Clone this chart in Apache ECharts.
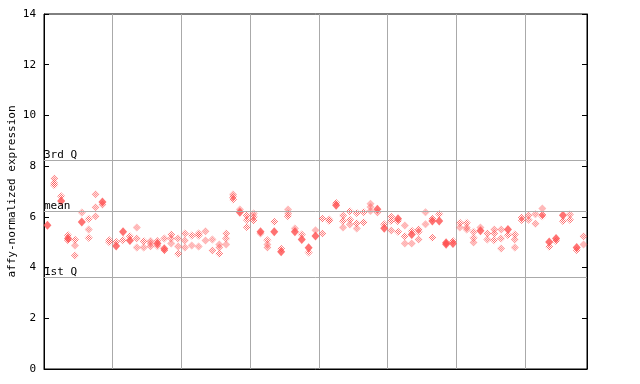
<!DOCTYPE html>
<html><head><meta charset="utf-8">
<script src="https://cdn.jsdelivr.net/npm/echarts@6/dist/echarts.min.js"></script>
<style>html,body{margin:0;padding:0;background:#fff}#c{width:640px;height:384px}</style>
</head><body><div id="c"></div>
<script>
const sampleCount = 79;
const yTicks = [0, 2, 4, 6, 8, 10, 12, 14];
const refLineNames = ['3rd Q', 'mean', '1st Q'];
const refLineValues = [8.22, 6.21, 3.62];
const axisTitle = 'affy-normalized expression';

// per-sample replicate values (hollow/checkered markers)
const hollowValues = [
  [], [7.51, 7.33, 7.25], [6.81], [5.27, 5.08], [5.1, 4.87, 4.48],
  [6.17], [5.93, 5.5, 5.18], [6.89, 6.38, 6.02], [6.48], [5.08, 5.0],
  [5.01], [5.08], [5.24], [5.58, 5.15, 4.79], [5.05, 4.79],
  [5.05, 4.95, 4.84], [5.05, 4.84], [5.15, 4.67], [5.3, 5.15, 4.95], [5.15, 4.83, 4.55],
  [5.34, 5.07, 4.79], [5.26, 4.87], [5.34, 5.26, 4.83], [5.43, 5.07], [5.11, 4.67],
  [4.91, 4.79, 4.55], [5.34, 5.15, 4.91], [6.88, 6.78, 6.68], [6.29], [6.06, 5.89, 5.6],
  [6.13, 6.0, 5.87], [5.34], [5.08, 4.91, 4.79], [5.81], [4.74],
  [6.29, 6.13, 6.02], [5.54], [5.3], [4.59], [5.47],
  [5.93, 5.34], [5.9, 5.84], [6.55], [6.05, 5.84, 5.58], [6.22, 5.89, 5.7],
  [6.15, 5.75, 5.54], [6.19, 5.79], [6.52, 6.39, 6.23], [6.17], [5.71],
  [6.0, 5.84, 5.46], [5.83, 5.41], [5.66, 5.24, 4.95], [5.45, 4.95], [5.51, 5.41, 5.11],
  [6.18, 5.71], [5.93, 5.18], [6.1], [], [5.05],
  [5.77, 5.58], [5.77, 5.58, 5.5], [5.41, 5.18, 4.99], [5.58], [5.34, 5.11],
  [5.5, 5.34, 5.08], [5.5, 5.15, 4.75], [5.28], [5.3, 5.11, 4.79], [5.98, 5.88],
  [6.06, 5.89], [6.1, 5.73], [6.33, 6.08, 6.02], [4.82], [5.05],
  [5.84], [6.09, 5.89], [4.69], [5.24, 4.91]
];
// per-sample replicate values drawn as solid markers
const solidValues = [
  [5.67], [], [6.63], [5.15], [],
  [5.8], [], [], [6.59], [],
  [4.85], [5.41], [5.07], [], [],
  [], [4.95], [4.74], [], [],
  [], [], [], [], [],
  [], [], [], [6.18], [],
  [], [5.41], [], [5.41], [4.62],
  [], [5.41], [5.11], [4.78], [5.25],
  [], [], [6.46], [], [],
  [], [], [], [6.3], [5.55],
  [], [5.93], [], [5.3], [],
  [], [5.84], [5.84], [4.98, 4.92], [4.95],
  [], [], [], [5.45], [],
  [], [], [5.5], [], [],
  [], [], [], [5.01], [5.15],
  [6.06], [], [4.79], []
];

function toPoints(groups) {
  const out = [];
  groups.forEach((vals, i) => vals.forEach(v => out.push([i + 0.5, v])));
  return out;
}

const RED = '#ff4f4f';
const pc = document.createElement('canvas');
pc.width = 8; pc.height = 8;
const pctx = pc.getContext('2d');
pctx.fillStyle = RED;
pctx.fillRect(0, 0, 4, 4);
pctx.fillRect(4, 4, 4, 4);
const hollowSize = 8;

const font = 'DejaVu Sans Mono';
const chart = echarts.init(document.getElementById('c'), null, {renderer: 'canvas'});
chart.setOption({
  animation: false,
  grid: {left: 44, right: 53, top: 14, bottom: 15, outerBoundsMode: 'none', containLabel: false,
    show: true, borderColor: '#000', borderWidth: 1, backgroundColor: 'transparent'},
  xAxis: {
    type: 'value', min: 0, max: sampleCount, interval: 10,
    axisLine: {show: true, lineStyle: {color: '#000'}},
    axisTick: {show: false}, axisLabel: {show: false},
    splitLine: {show: true, lineStyle: {color: '#aaaaaa', width: 1}}
  },
  yAxis: [{
    type: 'value', min: yTicks[0], max: yTicks[yTicks.length - 1], interval: 2,
    name: axisTitle, nameLocation: 'middle', nameGap: 26, nameMoveOverlap: false,
    nameTextStyle: {fontFamily: font, fontSize: 11, color: '#000'},
    axisLine: {show: true, lineStyle: {color: '#000'}},
    axisTick: {show: true, inside: true, length: 5, lineStyle: {color: '#000'}},
    axisLabel: {fontFamily: font, fontSize: 11, color: '#000', margin: 8},
    splitLine: {show: false}
  }, {
    type: 'value', position: 'right', min: yTicks[0], max: yTicks[yTicks.length - 1], interval: 2,
    axisLine: {show: true, lineStyle: {color: '#000'}},
    axisTick: {show: true, inside: true, length: 5, lineStyle: {color: '#000'}},
    axisLabel: {show: false}, splitLine: {show: false}
  }],
  series: [{
    type: 'scatter', name: 'replicates',
    data: toPoints(hollowValues),
    symbol: 'diamond', symbolSize: hollowSize,
    itemStyle: {color: {image: pc, repeat: 'repeat', scaleX: 2 / hollowSize / 4, scaleY: 2 / hollowSize / 4}},
    emphasis: {disabled: true}, silent: true,
    markLine: {
      silent: true, symbol: ['none', 'none'], animation: false,
      lineStyle: {color: '#aaaaaa', type: 'solid', width: 1},
      label: {show: true, position: 'insideStartTop', formatter: '{b}', distance: [0, 0],
        fontFamily: font, fontSize: 11, color: '#000'},
      data: refLineValues.map((v, k) => ({yAxis: v, name: refLineNames[k]}))
    },
    z: 3
  }, {
    type: 'scatter', name: 'solid',
    data: toPoints(solidValues),
    symbol: 'diamond', symbolSize: [8, 9],
    itemStyle: {color: RED},
    emphasis: {disabled: true}, silent: true, z: 4
  }]
});
</script></body></html>
